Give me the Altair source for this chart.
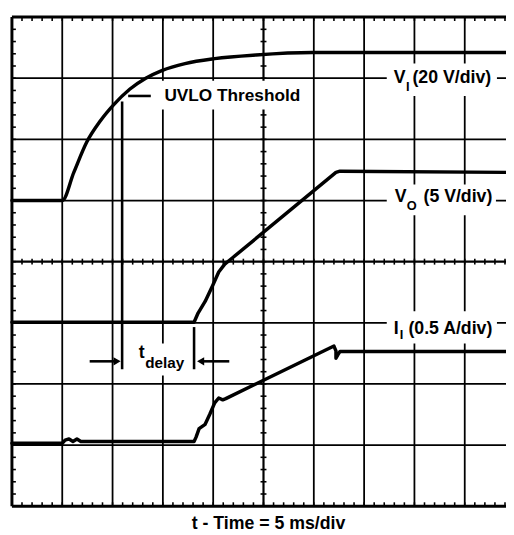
import altair as alt
import pandas as pd

FONT = "Liberation Sans, Arial, Helvetica, sans-serif"
X_MAX = 9.82   # visible horizontal divisions (right edge cropped)
Y_MAX = 8      # vertical divisions

# ---- traces (x: time divisions from left, y: divisions from bottom) ----
vi_x = [0, 1.0, 1.23, 1.49, 1.755, 2.015, 2.34, 2.66, 2.99, 3.44, 4.03, 4.85, 5.97, 9.82]
vi_y = [5.0, 5.0, 5.46, 5.96, 6.30, 6.56, 6.82, 7.00, 7.13, 7.24, 7.32, 7.38, 7.42, 7.42]

vo_x = [0, 3.62, 3.70, 3.84, 3.99, 4.11, 4.23, 4.38, 6.44, 6.52, 9.82]
vo_y = [3.01, 3.01, 3.16, 3.35, 3.61, 3.83, 3.96, 4.06, 5.46, 5.48, 5.46]

ii_x = [0, 1.0, 1.057, 1.135, 1.213, 1.292, 1.37, 3.62, 3.66, 3.72, 3.84, 3.93,
        4.03, 4.11, 4.19, 4.25, 6.40, 6.44, 6.44, 6.48, 6.52, 9.82]
ii_y = [1.03, 1.03, 1.08, 1.10, 1.06, 1.10, 1.06, 1.06, 1.13, 1.27, 1.34, 1.50,
        1.69, 1.77, 1.74, 1.76, 2.62, 2.54, 2.42, 2.48, 2.53, 2.53]

# ---- graticule ----
x_major = [1, 2, 3, 4, 5, 6, 7, 8, 9]
y_major = [1, 2, 3, 4, 5, 6, 7]
x_center = 5
y_center = 4
minor_x = [k / 5 for k in range(1, 50)]
minor_y = [k / 5 for k in range(1, 40)]

# ---- annotations ----
label_text = ["UVLO Threshold", "V", "I", "(20 V/div)", "V", "O", "(5 V/div)",
              "I", "I", "(0.5 A/div)", "t", "delay"]
label_x = [3.03, 7.59, 7.83, 7.96, 7.61, 7.845, 8.18, 7.59, 7.71, 7.88, 2.52, 2.65]
label_y = [6.715, 7.0, 6.86, 7.0, 5.064, 4.91, 5.064, 2.90, 2.80, 2.90, 2.50, 2.34]
label_size = [17.5, 18, 13, 18, 18, 13, 18, 18, 13, 18, 18, 15.5]

box_x = [2.90, 7.45, 7.45, 7.45, 2.43]
box_x2 = [5.83, 9.64, 9.62, 9.64, 3.52]
box_y = [6.49, 6.71, 4.76, 2.66, 2.14]
box_y2 = [6.96, 7.24, 5.26, 3.19, 2.66]

# marker lines: UVLO vertical, tdelay end vertical, dash, arrow shafts
seg_x = [2.19, 3.62, 2.31, 1.545, 4.32]
seg_x2 = [2.19, 3.62, 2.76, 2.05, 3.80]
seg_y = [2.24, 2.24, 6.71, 2.37, 2.37]
seg_y2 = [6.62, 2.93, 6.71, 2.37, 2.37]

head_x = [2.09, 3.75]
head_y = [2.37, 2.37]
head_shape = ["triangle-right", "triangle-left"]

title_text = ["t - Time = 5 ms/div"]
title_x = [5.1]
title_y = [-0.30]

xs = alt.Scale(domain=[0, X_MAX], nice=False, zero=False)
ys = alt.Scale(domain=[0, Y_MAX], nice=False, zero=False)


def X(f="x"):
    return alt.X(f"{f}:Q", scale=xs, axis=None)


def Y(f="y"):
    return alt.Y(f"{f}:Q", scale=ys, axis=None)


# grid rules
grid_rows = []
for v in x_major:
    grid_rows.append(dict(x=v, x2=v, y=0, y2=Y_MAX, w=2.2 if v == x_center else 1.8))
for v in y_major:
    grid_rows.append(dict(x=0, x2=X_MAX, y=v, y2=v, w=2.2 if v == y_center else 1.8))
# border (left, top, bottom)
grid_rows += [dict(x=0, x2=0, y=0, y2=Y_MAX, w=3),
              dict(x=0, x2=X_MAX, y=Y_MAX, y2=Y_MAX, w=3),
              dict(x=0, x2=X_MAX, y=0, y2=0, w=3)]
grid_df = pd.DataFrame(grid_rows)

tl_y = 4 / 62.1
tl_x = 4 / 51.12
tc_y = 3 / 62.1
tc_x = 3 / 51.12
tick_rows = []
for v in minor_x:
    tick_rows.append(dict(x=v, x2=v, y=Y_MAX, y2=Y_MAX - tl_y))
    tick_rows.append(dict(x=v, x2=v, y=0, y2=tl_y))
    tick_rows.append(dict(x=v, x2=v, y=y_center - tc_y, y2=y_center + tc_y))
for v in minor_y:
    tick_rows.append(dict(x=0, x2=tl_x, y=v, y2=v))
    tick_rows.append(dict(x=x_center - tc_x, x2=x_center + tc_x, y=v, y2=v))
tick_df = pd.DataFrame(tick_rows)

grid = alt.Chart(grid_df).mark_rule(color="black").encode(
    x=X(), x2="x2", y=Y(), y2="y2", strokeWidth=alt.StrokeWidth("w:Q", scale=None))
ticks = alt.Chart(tick_df).mark_rule(color="black", strokeWidth=1.6).encode(
    x=X(), x2="x2", y=Y(), y2="y2")

boxes = alt.Chart(pd.DataFrame(dict(x=box_x, x2=box_x2, y=box_y, y2=box_y2))).mark_rect(
    color="white").encode(x=X(), x2="x2", y=Y(), y2="y2")

traces = []
for xv, yv, interp in [(vi_x, vi_y, "monotone"), (vo_x, vo_y, "linear"), (ii_x, ii_y, "linear")]:
    df = pd.DataFrame(dict(x=xv, y=yv, i=list(range(len(xv)))))
    traces.append(alt.Chart(df).mark_line(color="black", strokeWidth=3.5, interpolate=interp,
                                          strokeJoin="round", strokeCap="round").encode(
        x=X(), y=Y(), order=alt.Order("i:Q")))

segs = alt.Chart(pd.DataFrame(dict(x=seg_x, x2=seg_x2, y=seg_y, y2=seg_y2))).mark_rule(
    color="black", strokeWidth=2.6).encode(x=X(), x2="x2", y=Y(), y2="y2")

heads = alt.Chart(pd.DataFrame(dict(x=head_x, y=head_y, s=head_shape))).mark_point(
    filled=True, color="black", opacity=1, size=70).encode(
    x=X(), y=Y(), shape=alt.Shape("s:N", scale=None))

labels = alt.Chart(pd.DataFrame(dict(x=label_x, y=label_y, t=label_text, s=label_size))).mark_text(
    align="left", baseline="middle", font=FONT, fontWeight="bold", color="black").encode(
    x=X(), y=Y(), text="t:N", size=alt.Size("s:Q", scale=None))

title = alt.Chart(pd.DataFrame(dict(x=title_x, y=title_y, t=title_text))).mark_text(
    align="center", baseline="middle", font=FONT, fontWeight="bold", fontSize=18,
    color="black").encode(x=X(), y=Y(), text="t:N")

chart = alt.layer(grid, ticks, boxes, *traces, segs, heads, labels, title).properties(
    width=502, height=497,
    padding={"left": 4, "top": 5, "right": 0, "bottom": 25},
    autosize=alt.AutoSizeParams(type="none"),
    background="white",
).configure_view(stroke=None)

chart.save("out.html", embed_options={"renderer": "svg", "actions": False})
